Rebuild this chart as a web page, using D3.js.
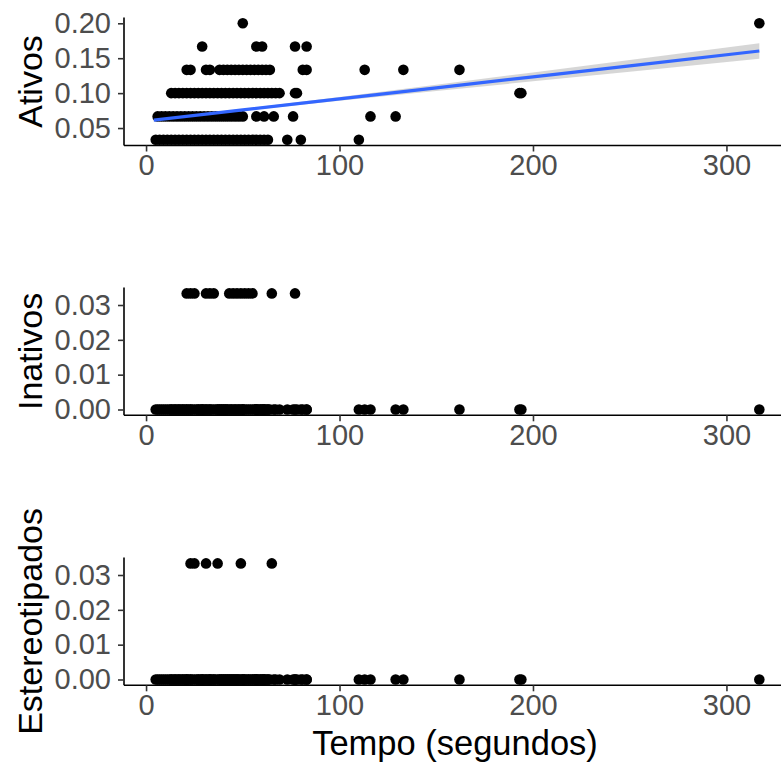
<!DOCTYPE html>
<html>
<head>
<meta charset="utf-8">
<script src="https://cdn.jsdelivr.net/npm/d3@7"></script>
<style>
  html, body { margin: 0; padding: 0; background: #fff; }
  svg { display: block; font-family: "Liberation Sans", Arial, sans-serif; }
</style>
</head>
<body>
<svg id="chart" width="781" height="762"></svg>
<script>
// Proportion of active behaviour per observation, grouped by level (k/30)
const ativosNiveis = [1/30, 2/30, 3/30, 4/30, 5/30, 6/30];
const ativosTempos = [
  [5, 7, 9, 11, 13, 15, 17, 19, 21, 23, 25, 27, 29, 31, 33, 35, 37, 39, 41, 43, 45, 47, 49, 51, 53, 55, 57, 59, 61, 63, 73, 80, 110],
  [6, 8, 10, 12, 14, 16, 18, 20, 22, 24, 26, 28, 30, 32, 34, 36, 38, 40, 42, 44, 46, 48, 50, 57, 61, 66, 76, 116, 129],
  [13, 15, 17, 19, 21, 23, 25, 27, 29, 31, 33, 35, 37, 39, 41, 43, 45, 47, 49, 51, 53, 55, 57, 59, 61, 63, 65, 67, 69, 77, 78, 193, 194],
  [21, 23, 31, 33, 38, 40, 42, 44, 46, 48, 50, 52, 54, 56, 58, 60, 62, 64, 81, 83, 113, 133, 162],
  [29, 57, 60, 77, 83],
  [50, 317]
];

// Observations (by time) where inactive / stereotyped behaviour was 1/30; all others are 0
const inativosTempos = [21, 23, 25, 31, 33, 35, 43, 45, 47, 49, 51, 53, 55, 65, 77];
const estereotipadosTempos = [23, 25, 31, 37, 49, 65];

// Linear fit (with 95% band) of Ativos against time
const fitTempo    = [4, 50, 100, 150, 200, 250, 317];
const fitAtivos   = [0.0614, 0.0759, 0.0917, 0.1075, 0.1233, 0.1391, 0.1603];
const fitInferior = [0.0592, 0.0744, 0.0890, 0.1030, 0.1169, 0.1307, 0.1492];
const fitSuperior = [0.0636, 0.0774, 0.0944, 0.1120, 0.1297, 0.1475, 0.1714];

const xTicks = [0, 100, 200, 300];
const ativosTicks = [0.05, 0.10, 0.15, 0.20];
const propTicks = [0.00, 0.01, 0.02, 0.03];

// Build observation-level points
const ativosPontos = [];
ativosNiveis.forEach((v, i) => ativosTempos[i].forEach(t => ativosPontos.push({t, v})));
const todosTempos = ativosPontos.map(d => d.t);

function pontosBinarios(positivos) {
  const resto = todosTempos.slice();
  positivos.forEach(t => { const k = resto.indexOf(t); if (k >= 0) resto.splice(k, 1); });
  return resto.map(t => ({t, v: 0})).concat(positivos.map(t => ({t, v: 1/30})));
}
const inativosPontos = pontosBinarios(inativosTempos);
const estereoPontos = pontosBinarios(estereotipadosTempos);

const svg = d3.select("#chart");
const x = d3.scaleLinear().domain([-11.4, 328.2]).range([124, 781]);

const panels = [
  { titulo: "Ativos", pontos: ativosPontos, y: d3.scaleLinear().domain([0.025, 0.2083]).range([145.5, 17.5]),
    ticks: ativosTicks, fmt: d3.format(".2f"), fit: true },
  { titulo: "Inativos", pontos: inativosPontos, y: d3.scaleLinear().domain([-0.001667, 0.035]).range([415.3, 287.6]),
    ticks: propTicks, fmt: d3.format(".2f") },
  { titulo: "Estereotipados", pontos: estereoPontos, y: d3.scaleLinear().domain([-0.001667, 0.035]).range([685.3, 557.6]),
    ticks: propTicks, fmt: d3.format(".2f") }
];

const tickCol = "#333333";
const labCol = "#4D4D4D";
const tickFont = 29;

panels.forEach(p => {
  const [yb, yt] = p.y.range();
  const g = svg.append("g");

  if (p.fit) {
    const fd = fitTempo.map((t, i) => ({t, f: fitAtivos[i], lo: fitInferior[i], hi: fitSuperior[i]}));
    g.append("path")
      .attr("d", d3.area().x(d => x(d.t)).y0(d => p.y(d.lo)).y1(d => p.y(d.hi))(fd))
      .attr("fill", "#999999").attr("fill-opacity", 0.4);
  }

  g.selectAll("circle").data(p.pontos).join("circle")
    .attr("cx", d => x(d.t)).attr("cy", d => p.y(d.v)).attr("r", 5.3)
    .attr("fill", "#000");

  if (p.fit) {
    const fd = fitTempo.map((t, i) => ({t, f: fitAtivos[i]}));
    g.append("path")
      .attr("d", d3.line().x(d => x(d.t)).y(d => p.y(d.f))(fd))
      .attr("fill", "none").attr("stroke", "#3366FF").attr("stroke-width", 3.2);
  }

  // y axis
  const ya = g.append("g").attr("transform", "translate(124,0)")
    .call(d3.axisLeft(p.y).tickValues(p.ticks).tickFormat(p.fmt).tickSize(6).tickPadding(7));
  ya.select(".domain").attr("d", `M0,${yb}V${yt}`).attr("stroke", "#000").attr("stroke-width", 1.6);
  ya.selectAll(".tick line").attr("stroke", tickCol).attr("stroke-width", 1.6);
  ya.selectAll(".tick text").attr("fill", labCol).attr("font-size", tickFont)
    .attr("font-family", "Liberation Sans, Arial, sans-serif");

  // x axis
  const xa = g.append("g").attr("transform", `translate(0,${yb})`)
    .call(d3.axisBottom(x).tickValues(xTicks).tickFormat(d3.format("d")).tickSize(6).tickPadding(3));
  xa.select(".domain").attr("d", `M124,0H781`).attr("stroke", "#000").attr("stroke-width", 1.6);
  xa.selectAll(".tick line").attr("stroke", tickCol).attr("stroke-width", 1.6);
  xa.selectAll(".tick text").attr("fill", labCol).attr("font-size", tickFont)
    .attr("font-family", "Liberation Sans, Arial, sans-serif");

  // y title
  svg.append("text")
    .attr("transform", `translate(42,${(yb + yt) / 2}) rotate(-90)`)
    .attr("text-anchor", "middle")
    .attr("font-size", 34).attr("fill", "#000")
    .text(p.titulo);
});

svg.append("text")
  .attr("x", 455).attr("y", 755)
  .attr("text-anchor", "middle")
  .attr("font-size", 34.5).attr("fill", "#000")
  .text("Tempo (segundos)");
</script>
</body>
</html>
